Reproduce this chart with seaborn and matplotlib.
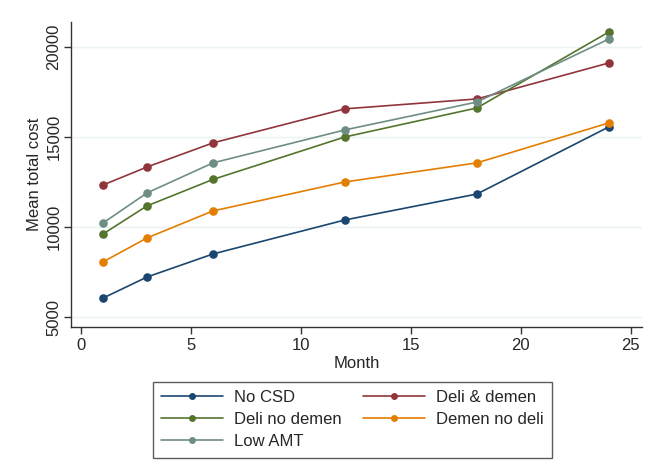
import matplotlib
matplotlib.use('Agg')
import matplotlib.pyplot as plt
import pandas as pd
import seaborn as sns

month = [1, 3, 6, 12, 18, 24]
no_csd = [6050, 7220, 8500, 10390, 11830, 15560]
deli_demen = [12330, 13330, 14670, 16560, 17110, 19110]
deli_no_demen = [9610, 11170, 12640, 15000, 16610, 20830]
demen_no_deli = [8060, 9390, 10890, 12500, 13560, 15780]
low_amt = [10220, 11890, 13560, 15390, 16940, 20440]

groups = ["No CSD", "Deli & demen", "Deli no demen", "Demen no deli", "Low AMT"]
series = [no_csd, deli_demen, deli_no_demen, demen_no_deli, low_amt]
colors = ["#1a476f", "#90353b", "#55752f", "#e37e00", "#6e8e84"]

rows = []
for g, vals in zip(groups, series):
    for m, v in zip(month, vals):
        rows.append({"Month": m, "cost": v, "group": g})
df = pd.DataFrame(rows)

sns.set_style("white")
plt.rcParams['font.family'] = ['Liberation Sans', 'DejaVu Sans']

fig = plt.figure(figsize=(6.55, 4.76), dpi=100)
ax = fig.add_axes([0.1084, 0.313, 0.8716, 0.641])

sns.lineplot(data=df, x="Month", y="cost", hue="group", hue_order=groups,
             palette=colors, marker="o", markersize=6.2, markeredgewidth=0,
             linewidth=1.2, ax=ax, legend=True)

ax.set_xlim(-0.4545, 25.5)
ax.set_ylim(4444, 21389)
ax.set_xticks([0, 5, 10, 15, 20, 25])
ax.set_yticks([5000, 10000, 15000, 20000])
ax.set_yticklabels(["5000", "10000", "15000", "20000"], rotation=90, va="center")
ax.yaxis.grid(True, color="#eaf2f3", linewidth=1)
ax.set_axisbelow(True)
for s in ["top", "right"]:
    ax.spines[s].set_visible(False)
for s in ["left", "bottom"]:
    ax.spines[s].set_color("#333333")
    ax.spines[s].set_linewidth(1)
ax.tick_params(axis="both", direction="out", length=5, width=1, color="#333333",
               labelsize=12, left=True, bottom=True, pad=3)
ax.tick_params(axis="y", pad=2)
ax.set_xlabel("Month", fontsize=12, labelpad=2)
ax.set_ylabel("Mean total cost", fontsize=12, labelpad=3)

handles, labels = ax.get_legend_handles_labels()
hmap = dict(zip(labels, handles))
order = ["No CSD", "Deli no demen", "Low AMT", "Deli & demen", "Demen no deli"]
leg = ax.legend([hmap[k] for k in order], order, ncol=2, loc="upper center",
                bbox_to_anchor=(0.493, -0.18), frameon=True, fancybox=False,
                edgecolor="#333333", fontsize=12, handlelength=3.7,
                columnspacing=1.3, labelspacing=0.42, borderpad=0.5,
                handletextpad=0.65, borderaxespad=0)
leg.get_frame().set_linewidth(1)
for h in leg.legend_handles:
    h.set_markersize(5)

fig.savefig("out.png", dpi=100, facecolor="white")
